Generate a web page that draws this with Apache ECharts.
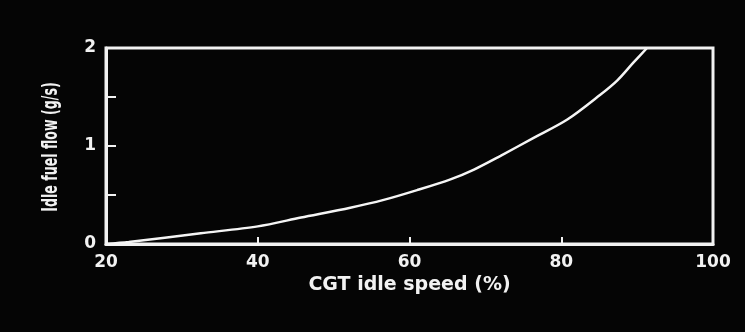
<!DOCTYPE html>
<html>
<head>
<meta charset="utf-8">
<script src="https://cdn.jsdelivr.net/npm/echarts@6/dist/echarts.min.js"></script>
<style>
  html, body { margin: 0; padding: 0; background: #050505; }
  #chart { width: 745px; height: 332px; }
</style>
</head>
<body>
<div id="chart"></div>
<script>
// idle speed (%) vs idle fuel flow (g/s)
var speed = [20, 23, 32.5, 40, 45.7, 52.2, 56.6, 61, 65.4, 68.5, 72, 76.3, 80.8, 85.1, 87.4, 89.5, 91.3];
var flow = [0, 0.02, 0.11, 0.18, 0.27, 0.37, 0.45, 0.55, 0.66, 0.76, 0.9, 1.08, 1.27, 1.52, 1.67, 1.85, 2.0];
var xTicks = [20, 40, 60, 80, 100];
var yTicks = [0, 1, 2];

var points = [];
for (var i = 0; i < speed.length; i++) {
  points.push([speed[i], flow[i]]);
}

var chart = echarts.init(document.getElementById("chart"));
var labelFont = "'DejaVu Sans', sans-serif";

chart.setOption({
  backgroundColor: "#050505",
  animation: false,
  // y axis title is condensed in the scan, so draw it as a scaled text
  graphic: [
    {
      type: "text",
      x: 51,
      y: 147,
      rotation: Math.PI / 2,
      scaleX: 0.7,
      scaleY: 1.22,
      style: {
        text: "Idle fuel flow (g/s)",
        fill: "#f2f2f2",
        font: "bold 18px 'DejaVu Sans', sans-serif",
        textAlign: "center",
        textVerticalAlign: "middle",
      },
    },
  ],
  grid: {
    left: 106,
    right: 32,
    top: 48,
    bottom: 88,
    show: true,
    borderColor: "#f2f2f2",
    borderWidth: 3,
  },
  xAxis: {
    type: "value",
    min: 20,
    max: 100,
    interval: 20,
    name: "CGT idle speed (%)",
    nameLocation: "middle",
    nameGap: 30,
    nameTextStyle: {
      color: "#f2f2f2",
      fontFamily: labelFont,
      fontWeight: "bold",
      fontSize: 19,
    },
    axisLine: { show: true, lineStyle: { color: "#f2f2f2", width: 3 } },
    axisTick: { show: true, inside: true, length: 7, lineStyle: { color: "#f2f2f2", width: 2 } },
    splitLine: { show: false },
    axisLabel: {
      color: "#f2f2f2",
      fontFamily: labelFont,
      fontWeight: "bold",
      fontSize: 17,
      margin: 10,
      formatter: function (v) {
        return xTicks.indexOf(v) >= 0 ? String(v) : "";
      },
    },
  },
  yAxis: {
    type: "value",
    min: 0,
    max: 2,
    interval: 0.5,
    axisLine: { show: true, lineStyle: { color: "#f2f2f2", width: 3 } },
    axisTick: { show: true, inside: true, length: 10, lineStyle: { color: "#f2f2f2", width: 2 } },
    splitLine: { show: false },
    axisLabel: {
      color: "#f2f2f2",
      fontFamily: labelFont,
      fontWeight: "bold",
      fontSize: 17,
      margin: 10,
      formatter: function (v) {
        return yTicks.indexOf(v) >= 0 ? String(v) : "";
      },
    },
  },
  series: [
    {
      type: "line",
      data: points,
      smooth: 0.3,
      showSymbol: false,
      lineStyle: { color: "#f5f5f5", width: 2.5 },
    },
  ],
});
</script>
</body>
</html>
